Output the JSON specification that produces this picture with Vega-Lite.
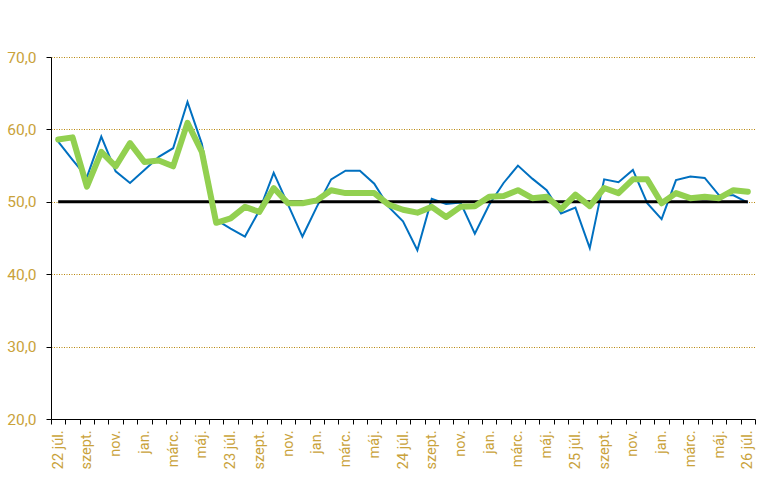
{
  "$schema": "https://vega.github.io/schema/vega-lite/v6.json",
  "description": "Havi index 2022 júl. - 2026 júl.",
  "width": 704,
  "height": 362,
  "autosize": {"type": "none"},
  "padding": {"left": 51, "top": 57, "right": 9, "bottom": 78},
  "config": {
    "view": {"stroke": null},
    "font": "Roboto",
    "axis": {
      "labelFont": "Roboto",
      "labelColor": "#C9A23A",
      "domainColor": "#000000",
      "tickColor": "#000000",
      "title": null
    }
  },
  "datasets": {
    "monthly": [
      {"m": "2022-07", "blue": 58.3, "green": 58.6},
      {"m": "2022-08", "blue": 55.8, "green": 58.9},
      {"m": "2022-09", "blue": 53.4, "green": 52.1},
      {"m": "2022-10", "blue": 59.0, "green": 56.9},
      {"m": "2022-11", "blue": 54.2, "green": 54.9},
      {"m": "2022-12", "blue": 52.6, "green": 58.1},
      {"m": "2023-01", "blue": 54.4, "green": 55.5},
      {"m": "2023-02", "blue": 56.2, "green": 55.7},
      {"m": "2023-03", "blue": 57.4, "green": 54.9},
      {"m": "2023-04", "blue": 63.8, "green": 60.9},
      {"m": "2023-05", "blue": 58.0, "green": 56.9},
      {"m": "2023-06", "blue": 47.5, "green": 47.1},
      {"m": "2023-07", "blue": 46.3, "green": 47.7},
      {"m": "2023-08", "blue": 45.2, "green": 49.3},
      {"m": "2023-09", "blue": 48.8, "green": 48.6},
      {"m": "2023-10", "blue": 54.0, "green": 51.9},
      {"m": "2023-11", "blue": 49.6, "green": 49.8},
      {"m": "2023-12", "blue": 45.2, "green": 49.8},
      {"m": "2024-01", "blue": 49.3, "green": 50.2},
      {"m": "2024-02", "blue": 53.1, "green": 51.6},
      {"m": "2024-03", "blue": 54.3, "green": 51.2},
      {"m": "2024-04", "blue": 54.3, "green": 51.2},
      {"m": "2024-05", "blue": 52.5, "green": 51.2},
      {"m": "2024-06", "blue": 49.3, "green": 49.6},
      {"m": "2024-07", "blue": 47.3, "green": 48.9},
      {"m": "2024-08", "blue": 43.3, "green": 48.5},
      {"m": "2024-09", "blue": 50.4, "green": 49.3},
      {"m": "2024-10", "blue": 49.7, "green": 47.9},
      {"m": "2024-11", "blue": 49.9, "green": 49.3},
      {"m": "2024-12", "blue": 45.6, "green": 49.4},
      {"m": "2025-01", "blue": 49.6, "green": 50.7},
      {"m": "2025-02", "blue": 52.6, "green": 50.8},
      {"m": "2025-03", "blue": 55.0, "green": 51.6},
      {"m": "2025-04", "blue": 53.2, "green": 50.5},
      {"m": "2025-05", "blue": 51.6, "green": 50.7},
      {"m": "2025-06", "blue": 48.4, "green": 49.0},
      {"m": "2025-07", "blue": 49.2, "green": 51.0},
      {"m": "2025-08", "blue": 43.6, "green": 49.4},
      {"m": "2025-09", "blue": 53.1, "green": 51.9},
      {"m": "2025-10", "blue": 52.7, "green": 51.2},
      {"m": "2025-11", "blue": 54.4, "green": 53.1},
      {"m": "2025-12", "blue": 49.8, "green": 53.1},
      {"m": "2026-01", "blue": 47.6, "green": 49.8},
      {"m": "2026-02", "blue": 53.0, "green": 51.2},
      {"m": "2026-03", "blue": 53.5, "green": 50.5},
      {"m": "2026-04", "blue": 53.3, "green": 50.7},
      {"m": "2026-05", "blue": 50.9, "green": 50.5},
      {"m": "2026-06", "blue": 50.9, "green": 51.6},
      {"m": "2026-07", "blue": 49.9, "green": 51.4}
    ],
    "threshold": [
      {"m": "2022-07", "v": 50},
      {"m": "2026-07", "v": 50}
    ]
  },
  "encoding": {
    "x": {
      "field": "m",
      "type": "ordinal",
      "sort": null,
      "scale": {"type": "band", "paddingInner": 0, "paddingOuter": 0},
      "axis": {
        "tickBand": "extent",
        "tickSize": 5,
        "labelAngle": -90,
        "labelFontSize": 14.5,
        "labelPadding": 6,
        "labelOverlap": false,
        "labelExpr": "substring(datum.value,5,7)=='07' ? substring(datum.value,2,4)+' júl.' : substring(datum.value,5,7)=='09' ? 'szept.' : substring(datum.value,5,7)=='11' ? 'nov.' : substring(datum.value,5,7)=='01' ? 'jan.' : substring(datum.value,5,7)=='03' ? 'márc.' : substring(datum.value,5,7)=='05' ? 'máj.' : ''"
      }
    }
  },
  "layer": [
    {
      "data": {"name": "monthly"},
      "mark": {"type": "line", "color": "#0070C0", "strokeWidth": 2},
      "encoding": {
        "y": {
          "field": "blue",
          "type": "quantitative",
          "scale": {"domain": [20, 70], "nice": false, "zero": false},
          "axis": {
            "values": [20, 30, 40, 50, 60, 70],
            "labelExpr": "replace(format(datum.value,'.1f'),'.',',')",
            "labelFontSize": 15.5,
            "tickSize": 5,
            "labelPadding": 10,
            "grid": true,
            "gridColor": "#B8860B",
            "gridDash": [1, 1.5],
            "gridWidth": 1
          }
        }
      }
    },
    {
      "data": {"name": "threshold"},
      "mark": {"type": "line", "color": "#000000", "strokeWidth": 3},
      "encoding": {
        "y": {"field": "v", "type": "quantitative"}
      }
    },
    {
      "data": {"name": "monthly"},
      "mark": {"type": "line", "color": "#92D050", "strokeWidth": 6, "strokeJoin": "round", "strokeCap": "round"},
      "encoding": {
        "y": {"field": "green", "type": "quantitative"}
      }
    }
  ]
}
